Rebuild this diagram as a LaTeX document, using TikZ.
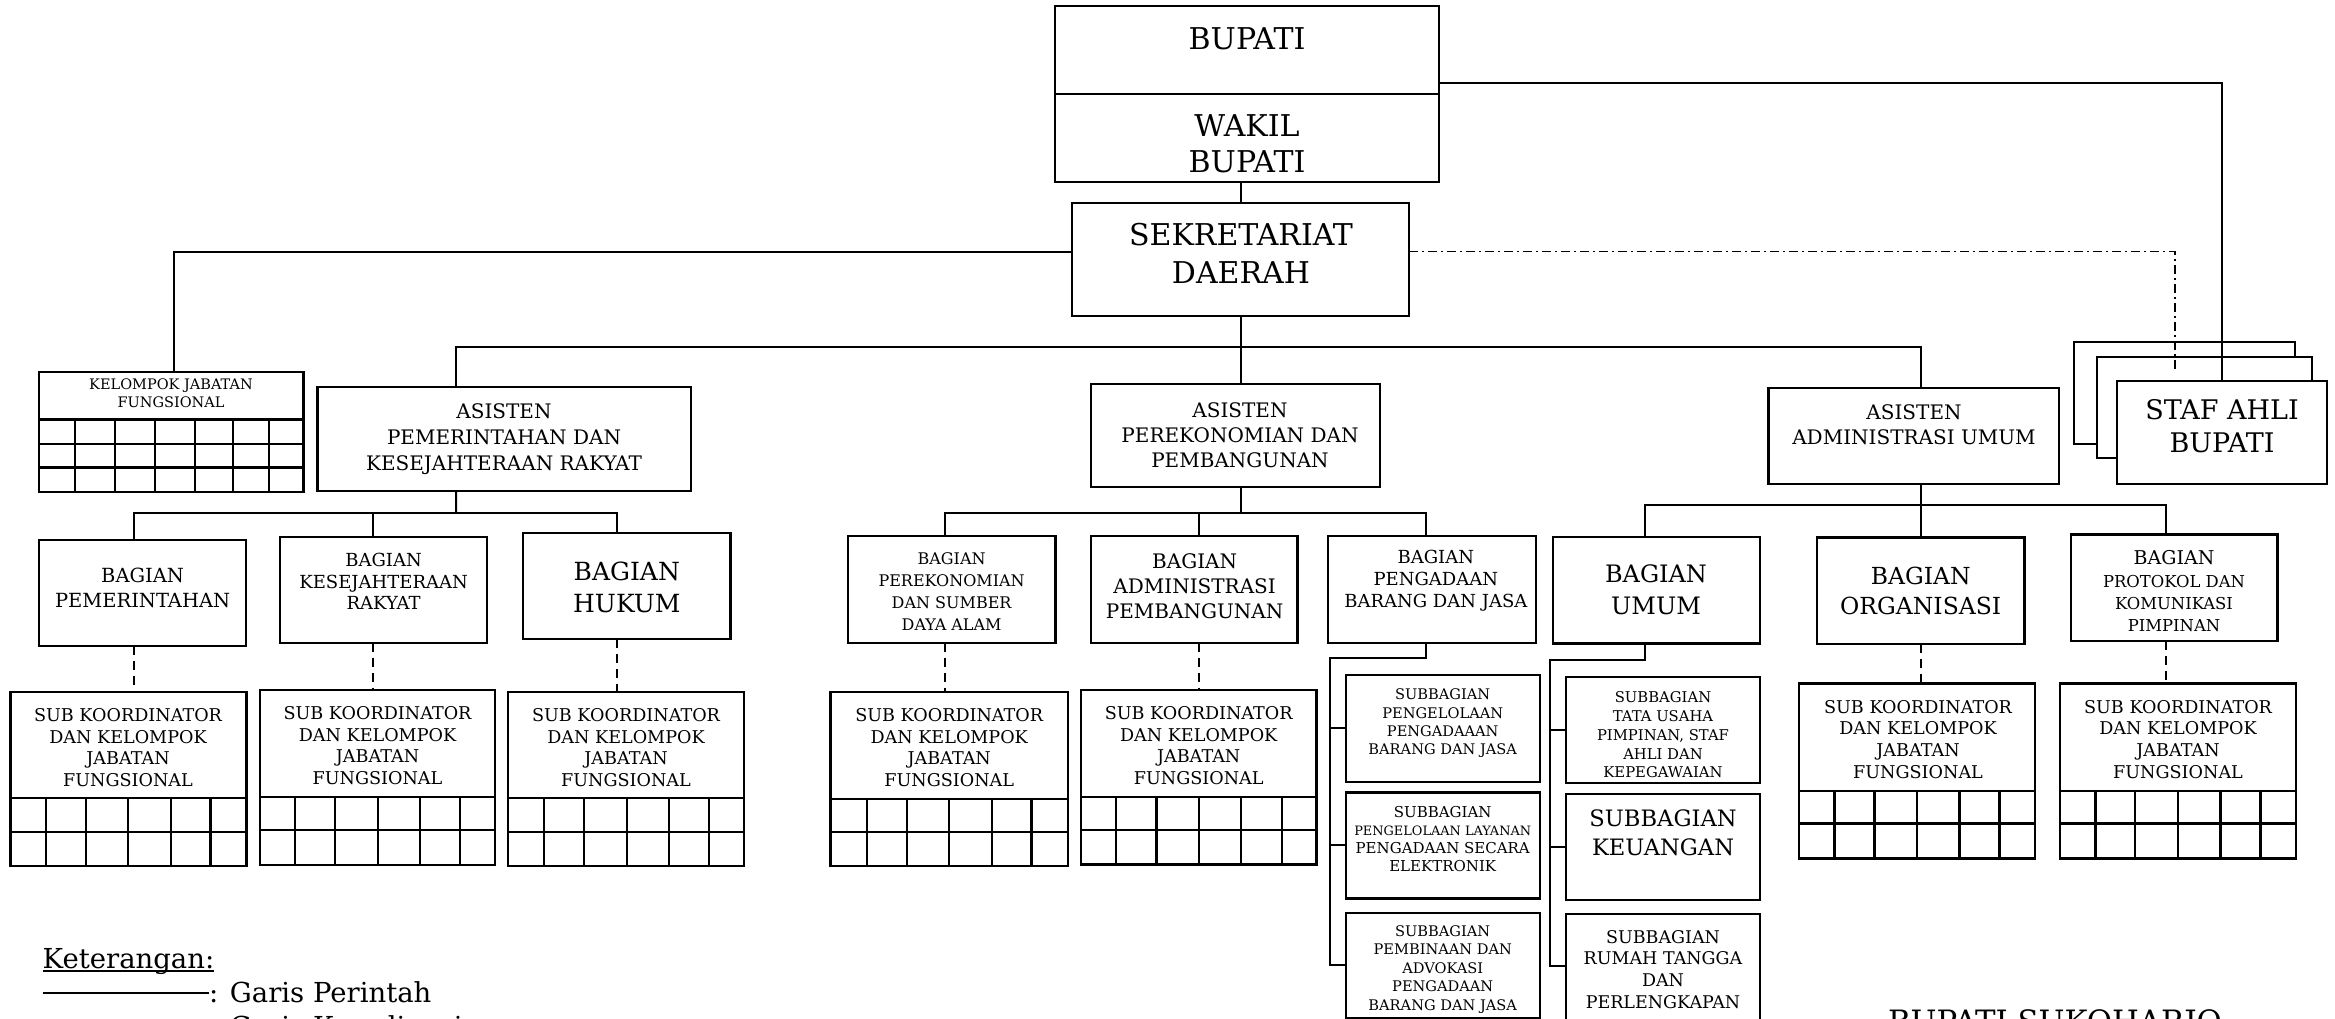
\documentclass[tikz,border=0pt]{standalone}
\usepackage{fontspec}
\setmainfont{DejaVu Serif}
\usetikzlibrary{calc}
\tikzset{
 box/.style={draw, line width=2.4pt, fill=white, inner sep=0pt, outer sep=0pt},
 txt/.style={inner sep=0pt, outer sep=0pt, align=center},
 conn/.style={line width=2pt},
 dline/.style={line width=2pt, dash pattern=on 9pt off 6pt},
 ddline/.style={line width=1.8pt, dash pattern=on 9pt off 4pt on 2pt off 4pt},
 gridl/.style={line width=2.4pt},
}
\newcommand\bx[5]{\node[box, minimum width={(#4)-(#2)}, minimum height={(#5)-(#3)}] (#1) at ({((#2)+(#4))/2},{((#3)+(#5))/2}) {};}
\newcommand\fs[2]{\fontsize{#1}{#2}\selectfont}
\newcommand\grd[6]{\draw[gridl] (#1,#2) rectangle (#3,#4); \foreach \r in {#5} {\draw[gridl] (#1,\r) -- (#3,\r);} \foreach \c in {#6} {\draw[gridl] (\c,#2) -- (\c,#4);}}
\newcommand\subtxt{SUB KOORDINATOR\\DAN KELOMPOK\\JABATAN\\FUNGSIONAL}
\begin{document}
\begin{tikzpicture}[x=1pt,y=-1pt]
\useasboundingbox (0,0) rectangle (2335,1019);
\fill[white] (0,0) rectangle (2335,1019);
\clip (0,0) rectangle (2335,1019);

% ---------- top ----------
\bx{bup}{1055}{6}{1439}{94}
\bx{wak}{1055}{94}{1439}{182}
\node[txt,font=\fs{30}{36}] (bupT) at (1247,39) {BUPATI};
\node[txt,font=\fs{30}{36}] (wakT) at (1247,144) {WAKIL\\BUPATI};
\bx{sek}{1072}{203}{1409}{316}
\node[txt,font=\fs{30}{38}] (sekT) at (1241,253) {SEKRETARIAT\\DAERAH};

% ---------- staf ahli ----------
\bx{stafA}{2074}{342}{2295}{444}
\bx{stafB}{2097}{357}{2312}{458}
\bx{stafC}{2117}{381}{2327}{484}
\node[txt,font=\fs{27}{33}] (stafT) at (2222,426.5) {STAF AHLI\\BUPATI};

% ---------- asisten ----------
\bx{apem}{317.5}{387}{690.7}{490.7}
\node[txt,font=\fs{20}{26}] (apemT) at (504,439) {ASISTEN\\PEMERINTAHAN DAN\\KESEJAHTERAAN RAKYAT};
\bx{aper}{1091}{384}{1380}{486.7}
\node[txt,font=\fs{20}{25}] (aperT) at (1240,435) {ASISTEN\\PEREKONOMIAN DAN\\PEMBANGUNAN};
\bx{aadm}{1768.6}{387.7}{2059}{484}
\node[txt,font=\fs{20}{25}] (aadmT) at (1914,424.5) {ASISTEN\\ADMINISTRASI UMUM};

% ---------- kelompok jabatan fungsional ----------
\bx{kel}{39}{372}{303.3}{419.3}
\node[txt,font=\fs{14.5}{18.5}] (kelT) at (171,393) {KELOMPOK JABATAN\\FUNGSIONAL};
\grd{39}{419.3}{303.3}{491.7}{443.7,467.3}{75,115,155,195,233,269}

% ---------- left bagian ----------
\bx{bp}{39}{540}{246}{645.7}
\node[txt,font=\fs{19.5}{25}] (bpT) at (142.6,587.5) {BAGIAN\\PEMERINTAHAN};
\bx{bk}{280}{536.7}{487}{642.7}
\node[txt,font=\fs{18}{21.5}] (bkT) at (383.6,581.5) {BAGIAN\\KESEJAHTERAAN\\RAKYAT};
\bx{bh}{523}{533}{730.6}{639}
\node[txt,font=\fs{25}{32}] (bhT) at (626.8,587) {BAGIAN\\HUKUM};

\bx{s1}{10.5}{691.7}{246.4}{798}
\node[txt,font=\fs{17.6}{21.7}] (s1T) at (128,747.5) {\subtxt};
\grd{10.5}{798}{246.4}{866}{831.7}{46,86,128,171,210.5}
\bx{s2}{260}{690}{495}{796.7}
\node[txt,font=\fs{17.6}{21.7}] (s2T) at (377.5,745.7) {\subtxt};
\grd{260}{796.7}{495}{865}{830}{295,335,378,420,460}
\bx{s3}{508}{691.7}{744}{798}
\node[txt,font=\fs{17.6}{21.7}] (s3T) at (626,747.5) {\subtxt};
\grd{508}{798}{744}{866}{831.7}{544,584,627,669,709}

% ---------- middle bagian ----------
\bx{bpe}{847.8}{536}{1055.4}{642.7}
\node[txt,font=\fs{16}{21.8}] (bpeT) at (951.6,591.7) {BAGIAN\\PEREKONOMIAN\\DAN SUMBER\\DAYA ALAM};
\bx{bad}{1090.8}{536}{1297.5}{642.7}
\node[txt,font=\fs{20}{25}] (badT) at (1194.6,586) {BAGIAN\\ADMINISTRASI\\PEMBANGUNAN};
\bx{bpg}{1328}{536}{1536}{642.7}
\node[txt,font=\fs{18}{22}] (bpgT) at (1435.8,581) {BAGIAN\\PENGADAAN\\BARANG DAN JASA};

\bx{s4}{830.5}{691.7}{1067.8}{799}
\node[txt,font=\fs{17.6}{21.7}] (s4T) at (949.2,747.5) {\subtxt};
\grd{830.5}{799}{1067.8}{866}{831.7}{867,907,949,992,1031.5}
\bx{s5}{1080.8}{690}{1316.6}{796.7}
\node[txt,font=\fs{17.6}{21.7}] (s5T) at (1198.7,745.5) {\subtxt};
\grd{1080.8}{796.7}{1316.6}{864.3}{830}{1115.7,1156.4,1199,1241,1281.7}

% ---------- subbagian pengadaan ----------
\bx{ps1}{1345.7}{675}{1540}{781.7}
\node[txt,font=\fs{14.6}{18.4}] (ps1T) at (1442.7,723.3) {SUBBAGIAN\\PENGELOLAAN\\PENGADAAAN\\BARANG DAN JASA};
\bx{ps2}{1345.7}{792.3}{1540}{898.3}
\node[txt,font=\fs{15}{18}] (ps2T) at (1442.7,839.3) {SUBBAGIAN\\{\fs{12.9}{18}PENGELOLAAN LAYANAN}\\PENGADAAN SECARA\\ELEKTRONIK};
\bx{ps3}{1345.7}{912.7}{1540}{1017.7}
\node[txt,font=\fs{14.6}{18.4}] (ps3T) at (1442.7,969.3) {SUBBAGIAN\\PEMBINAAN DAN\\ADVOKASI\\PENGADAAN\\BARANG DAN JASA};

% ---------- subbagian umum ----------
\bx{us1}{1566}{676.7}{1760}{782.7}
\node[txt,font=\fs{14.8}{18.75}] (us1T) at (1663,735) {SUBBAGIAN\\TATA USAHA\\PIMPINAN, STAF\\AHLI DAN\\KEPEGAWAIAN};
\bx{us2}{1566}{794}{1760}{900}
\node[txt,font=\fs{22.6}{28.8}] (us2T) at (1663,833.1) {SUBBAGIAN\\KEUANGAN};
\bx{us3}{1566}{914}{1760}{1025}
\node[txt,font=\fs{17.5}{21.7}] (us3T) at (1663,969.2) {SUBBAGIAN\\RUMAH TANGGA\\DAN\\PERLENGKAPAN};

% ---------- right bagian ----------
\bx{bu}{1553}{536.7}{1760}{643.3}
\node[txt,font=\fs{24}{32}] (buT) at (1656,590) {BAGIAN\\UMUM};
\bx{bo}{1816.8}{537.3}{2024.5}{644}
\node[txt,font=\fs{23.5}{30}] (boT) at (1920.7,591) {BAGIAN\\ORGANISASI};
\bx{bpr}{2070.8}{534.3}{2277.4}{640.7}
\node[txt,font=\fs{16.4}{22.3}] (bprT) at (2174,591.5) {{\fs{19}{22.3}BAGIAN}\\PROTOKOL DAN\\KOMUNIKASI\\PIMPINAN};

\bx{s6}{1799}{683.3}{2035}{791}
\node[txt,font=\fs{17.6}{21.7}] (s6T) at (1918,739.2) {\subtxt};
\grd{1799}{791}{2035}{858.3}{823.3}{1834.4,1874.3,1917,1959.5,1999.5}
\bx{s7}{2060}{683.3}{2296}{791}
\node[txt,font=\fs{17.6}{21.7}] (s7T) at (2178,739.2) {\subtxt};
\grd{2060}{791}{2296}{858.3}{823.3}{2095.3,2135,2177.8,2220.4,2260.4}

% ---------- connectors ----------
\coordinate (sdend) at (2174.6,370);
\coordinate (bus1) at (1241,347);
\coordinate (bus2) at (456,513.3);
\coordinate (bus3) at (1241,512.7);
\coordinate (bus4) at (1920.7,505);
\coordinate (pg) at (1330,658.3);
\coordinate (pu) at (1550,660);

\draw[conn] ([yshift=-33pt]bup.east) -| (stafC.north);
\draw[conn] (sek.north |- wak.south) -- (sek.north);
\draw[conn] ([yshift=7.5pt]sek.west) -| ([xshift=3pt]kel.north);
\draw[ddline] ([yshift=8pt]sek.east) -| (sdend);
\draw[conn] (sek.south) -- (sek.south |- aper.north);
\draw[conn] ([xshift=-48.1pt]apem.north) |- (bus1) -| ([xshift=6.7pt]aadm.north);

% left group
\path ([xshift=-48.1pt]apem.south) coordinate (apems)
      ([xshift=-8.5pt]bp.north) coordinate (bpn)
      ([xshift=-8.5pt]bp.south) coordinate (bps)
      ([xshift=-10.5pt]bk.north) coordinate (bkn)
      ([xshift=-10.5pt]bk.south) coordinate (bks)
      ([xshift=-9.8pt]bh.north) coordinate (bhn)
      ([xshift=-9.8pt]bh.south) coordinate (bhs);
\draw[conn] (apems) -- (bus2);
\draw[conn] (bpn) |- (bus2) -| (bhn);
\draw[conn] (bkn) -- (bkn |- bus2);
\draw[dline] (bps) -- (bps |- s1.north);
\draw[dline] (bks) -- (bks |- s2.north);
\draw[dline] (bhs) -- (bhs |- s3.north);

% middle group
\path ([xshift=5.5pt]aper.south) coordinate (apers)
      ([xshift=-6.6pt]bpe.north) coordinate (bpen)
      ([xshift=-6.6pt]bpe.south) coordinate (bpes)
      ([xshift=4.85pt]bad.north) coordinate (badn)
      ([xshift=4.85pt]bad.south) coordinate (bads)
      ([xshift=-6pt]bpg.north) coordinate (bpgn)
      ([xshift=-6pt]bpg.south) coordinate (bpgs);
\draw[conn] (apers) -- (bus3);
\draw[conn] (bpen) |- (bus3) -| (bpgn);
\draw[conn] (badn) -- (badn |- bus3);
\draw[dline] (bpes) -- (bpes |- s4.north);
\draw[dline] (bads) -- (bads |- s5.north);
\draw[conn] (bpgs) |- (pg) |- (ps3.west);
\draw[conn] (ps1.west) -- (ps1.west -| pg);
\draw[conn] (ps2.west) -- (ps2.west -| pg);

% right group
\path ([xshift=-11.1pt]bu.north) coordinate (bun)
      ([xshift=-11.1pt]bu.south) coordinate (bus)
      ([xshift=-8.5pt]bpr.north) coordinate (bprn)
      ([xshift=-8.5pt]bpr.south) coordinate (bprs)
      ([yshift=3.5pt]us3.west) coordinate (us3w);
\draw[conn] (aadm.south -| bus4) -- (bus4);
\draw[conn] (bun) |- (bus4) -| (bprn);
\draw[conn] (bo.north) -- (bo.north |- bus4);
\draw[dline] (bo.south) -- (bo.south |- s6.north);
\draw[dline] (bprs) -- (bprs |- s7.north);
\draw[conn] (bus) |- (pu) |- (us3w);
\draw[conn] (us1.west) -- (us1.west -| pu);
\draw[conn] (us2.west) -- (us2.west -| pu);

% ---------- legend ----------
\node[txt, anchor=base west, font=\fs{27.5}{34}] (ket) at (42.7,968) {Keterangan:};
\draw[line width=1.8pt] ([yshift=-3pt]ket.base west) -- ([yshift=-3pt]ket.base east);
\coordinate (lg1) at (42.7,993);
\node[txt, anchor=base west, font=\fs{27.5}{34}] (gp) at (209,1002) {: Garis Perintah};
\draw[conn] (lg1) -- (lg1 -| gp.west);
\node[txt, anchor=base west, font=\fs{27.5}{34}] (gk) at (209,1036) {: Garis Koordinasi};

\node[txt, anchor=base west, font=\fs{30.8}{36}] (bsk) at (1888,1032.5) {BUPATI SUKOHARJO};
\end{tikzpicture}
\end{document}
